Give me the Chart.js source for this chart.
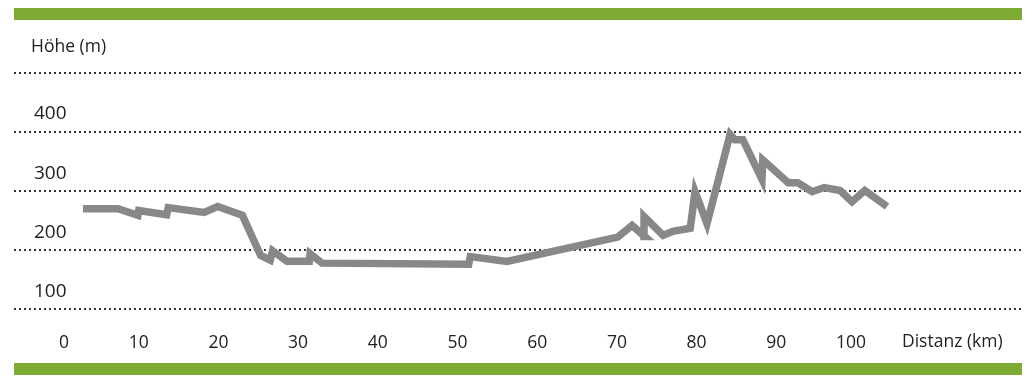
<!DOCTYPE html>
<html>
<head>
<meta charset="utf-8">
<script src="https://cdn.jsdelivr.net/npm/chart.js@4.4.1/dist/chart.umd.min.js"></script>
<style>
  html, body { margin: 0; padding: 0; background: #fff; }
  canvas { display: block; }
</style>
</head>
<body>
<canvas id="profile" width="1036" height="384" style="width:1036px;height:384px"></canvas>
<script>
// Route profile
const distanceKm = [2.0, 6.4, 8.9, 9.0, 12.5, 12.7, 17.2, 18.9, 22.0, 24.3, 25.5, 25.8, 27.6, 30.4, 30.5, 32.0,
  50.4, 50.6, 55.2, 69.1, 70.9, 72.5, 72.4, 74.8, 76.0, 78.2, 78.8, 80.3, 83.2, 83.8, 84.8, 87.2, 87.3,
  90.5, 91.7, 93.5, 95.0, 97.0, 98.5, 100.1, 102.9];
const heightM = [270, 270, 259, 267, 260, 272, 264, 274, 259, 191, 183, 199, 181, 181, 194, 178,
  176, 189, 181, 222, 242, 223, 257, 225, 232, 237, 299, 245, 396, 387, 387, 320, 353,
  314, 314, 299, 306, 301, 282, 301, 274];

const xTicks = [0, 10, 20, 30, 40, 50, 60, 70, 80, 90, 100];
const yTicks = [100, 200, 300, 400, 500];
const yTickLabels = ["100", "200", "300", "400", ""];
const yTitle = "Höhe (m)";
const xTitle = "Distanz (km)";

const green = "#7eab33";
const textColor = "#222";

Chart.defaults.font.family = "'Open Sans', sans-serif";

// green bars and axis titles
const framePlugin = {
  id: "frame",
  beforeDraw(chart) {
    const ctx = chart.ctx;
    ctx.save();
    ctx.fillStyle = green;
    ctx.fillRect(14, 8, 1008, 12);
    ctx.fillRect(14, 363, 1008, 12);
    ctx.restore();
  },
  afterDraw(chart) {
    const ctx = chart.ctx;
    ctx.save();
    ctx.fillStyle = textColor;
    ctx.font = "17.5px 'Open Sans', sans-serif";
    ctx.textBaseline = "alphabetic";
    ctx.textAlign = "left";
    ctx.fillText(yTitle, 31, 52);
    ctx.fillText(xTitle, 902, 347);
    ctx.restore();
  }
};

const ctx = document.getElementById("profile").getContext("2d");
new Chart(ctx, {
  type: "line",
  data: {
    datasets: [{
      data: distanceKm.map((d, i) => ({ x: d, y: heightM[i] })),
      borderColor: "#888888",
      borderWidth: 7.5,
      borderJoinStyle: "miter",
      borderCapStyle: "butt",
      pointRadius: 0,
      tension: 0,
      fill: false,
      clip: false
    }]
  },
  options: {
    responsive: false,
    devicePixelRatio: 1,
    animation: false,
    layout: { padding: { left: 14, right: 15, top: 73, bottom: 0 } },
    plugins: { legend: { display: false }, tooltip: { enabled: false } },
    scales: {
      x: {
        type: "linear",
        min: -6.65,
        max: 119.7,
        afterBuildTicks: s => { s.ticks = xTicks.map(v => ({ value: v })); },
        afterFit: s => { s.height = 63; },
        grid: { display: false, drawTicks: false },
        border: { display: false },
        ticks: {
          align: "end",
          autoSkip: false,
          maxRotation: 0,
          padding: 12,
          labelOffset: 2,
          color: textColor,
          font: { size: 17.5 }
        }
      },
      y: {
        type: "linear",
        min: 80,
        max: 500,
        afterBuildTicks: s => { s.ticks = yTicks.map(v => ({ value: v })); },
        afterFit: s => { s.width = 0; },
        grid: { color: "#333", lineWidth: 2, drawTicks: false },
        border: { display: false, dash: [2, 3] },
        ticks: {
          mirror: true,
          crossAlign: "near",
          padding: 20,
          labelOffset: -18,
          color: textColor,
          font: { size: 19 },
          callback: (v, i) => yTickLabels[i]
        }
      }
    }
  },
  plugins: [framePlugin]
});
</script>
</body>
</html>
